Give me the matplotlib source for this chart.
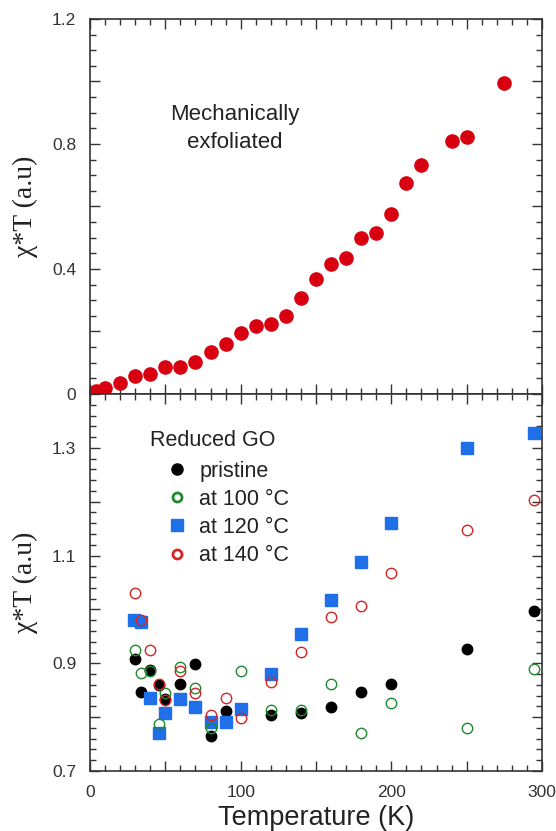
import matplotlib
matplotlib.use("Agg")
import matplotlib.pyplot as plt
from matplotlib.lines import Line2D
from matplotlib.ticker import MultipleLocator, FuncFormatter

# top panel: mechanically exfoliated
mech_T = [4, 10, 20, 30, 40, 50, 60, 70, 80, 90, 100, 110, 120, 130, 140,
          150, 160, 170, 180, 190, 200, 210, 220, 240, 250, 275]
mech_chiT = [0.008, 0.02, 0.034, 0.056, 0.063, 0.086, 0.086, 0.102, 0.135,
             0.159, 0.195, 0.216, 0.224, 0.248, 0.308, 0.369, 0.415, 0.436,
             0.499, 0.515, 0.576, 0.676, 0.733, 0.811, 0.821, 0.995]

# bottom panel: reduced GO
pristine_T = [30, 34, 40, 46, 50, 60, 70, 80, 90, 120, 140, 160, 180, 200,
              250, 295]
pristine_chiT = [0.908, 0.847, 0.887, 0.859, 0.833, 0.861, 0.898, 0.765,
                 0.812, 0.804, 0.807, 0.818, 0.846, 0.861, 0.927, 0.997]

t100_T = [30, 34, 40, 46, 50, 60, 70, 80, 100, 120, 140, 160, 180, 200,
          250, 295]
t100_chiT = [0.925, 0.882, 0.886, 0.788, 0.845, 0.893, 0.854, 0.78, 0.886,
             0.814, 0.814, 0.861, 0.771, 0.826, 0.779, 0.889]

t120_T = [29, 34, 40, 46, 50, 60, 70, 80, 90, 100, 120, 140, 160, 180, 200,
          250, 295]
t120_chiT = [0.98, 0.976, 0.835, 0.77, 0.808, 0.833, 0.819, 0.791, 0.791,
             0.816, 0.881, 0.955, 1.018, 1.088, 1.16, 1.299, 1.327]

t140_T = [30, 34, 40, 46, 50, 60, 70, 80, 90, 100, 120, 140, 160, 180, 200,
          250, 295]
t140_chiT = [1.03, 0.981, 0.925, 0.862, 0.831, 0.886, 0.845, 0.804, 0.836,
             0.799, 0.865, 0.921, 0.986, 1.007, 1.067, 1.148, 1.204]

legend_labels = ["pristine", "at 100 \u00b0C", "at 120 \u00b0C", "at 140 \u00b0C"]

sans = "Liberation Sans"
serif = "Liberation Serif"
red = "#d80010"
green = "#1e8a2e"
blue = "#1f6fe8"
red_open = "#d42424"


def style_axis(ax, y_major, y_minor, y_labels, show_x):
    ax.set_xlim(0, 300)
    ax.xaxis.set_major_locator(MultipleLocator(50))
    ax.xaxis.set_minor_locator(MultipleLocator(10))
    ax.yaxis.set_major_locator(MultipleLocator(y_major))
    ax.yaxis.set_minor_locator(MultipleLocator(y_minor))
    ax.tick_params(which="both", direction="in", top=True, right=True,
                   color="#333333", width=1.0)
    ax.tick_params(which="major", length=7, labelsize=12.5,
                   labelcolor="#333333", pad=10)
    ax.tick_params(which="minor", length=4)
    for s in ax.spines.values():
        s.set_linewidth(1.2)
        s.set_color("#333333")

    def yfmt(v, pos):
        for lab in y_labels:
            if abs(v - lab) < 1e-6:
                return "0" if abs(v) < 1e-9 else "%.1f" % v
        return ""
    ax.yaxis.set_major_formatter(FuncFormatter(yfmt))

    def xfmt(v, pos):
        return "%d" % v if show_x and int(round(v)) % 100 == 0 else ""
    ax.xaxis.set_major_formatter(FuncFormatter(xfmt))
    for lab in ax.get_xticklabels() + ax.get_yticklabels():
        lab.set_family(sans)

    ax.set_ylabel("\u03c7*T (a.u)", family=serif, fontsize=20, color="#222222")
    ax.yaxis.set_label_coords(-0.115, 0.5)


fig = plt.figure(figsize=(5.56, 8.31), dpi=100)
ax_top = fig.add_axes([0.1619, 0.5259, 0.8129, 0.4513])
ax_bot = fig.add_axes([0.1619, 0.0722, 0.8129, 0.4537])

# top panel
ax_top.plot(mech_T, mech_chiT, "o", color=red, ms=9.5, mec=red, clip_on=False)
ax_top.set_ylim(0, 1.2)
style_axis(ax_top, 0.2, 0.05, [0, 0.4, 0.8, 1.2], False)
ax_top.text(96, 0.85, "Mechanically\nexfoliated", ha="center", va="center",
            fontsize=16, family=sans, color="#222222", linespacing=1.4)

# bottom panel
ax_bot.plot(pristine_T, pristine_chiT, "o", color="black", ms=7.5,
            clip_on=False, zorder=3)
ax_bot.plot(t100_T, t100_chiT, "o", mfc="none", mec=green, ms=7.5, mew=1.0,
            clip_on=False, zorder=4)
ax_bot.plot(t120_T, t120_chiT, "s", color=blue, ms=8.5, clip_on=False,
            zorder=3)
ax_bot.plot(t140_T, t140_chiT, "o", mfc="none", mec=red_open, ms=7.5, mew=1.0,
            clip_on=False, zorder=4)
ax_bot.set_ylim(0.7, 1.4)
style_axis(ax_bot, 0.1, 0.02, [0.7, 0.9, 1.1, 1.3], True)
ax_bot.set_xlabel("Temperature (K)", family=sans, fontsize=19.5,
                  color="#222222", labelpad=4)

ax_bot.text(40, 1.313, "Reduced GO", ha="left", va="center", fontsize=15.5,
            family=sans, color="#222222")
handles = [
    Line2D([], [], ls="none", marker="o", color="black", ms=8),
    Line2D([], [], ls="none", marker="o", mfc="none", mec=green, ms=6.5, mew=2),
    Line2D([], [], ls="none", marker="s", color=blue, ms=8),
    Line2D([], [], ls="none", marker="o", mfc="none", mec=red_open, ms=6.5, mew=2),
]
leg = ax_bot.legend(handles, legend_labels, loc="upper left",
                    bbox_to_anchor=(50.5, 1.276), bbox_transform=ax_bot.transData,
                    frameon=False, borderpad=0, borderaxespad=0,
                    handlelength=1.0, handletextpad=0.55, labelspacing=0.33,
                    prop={"family": sans, "size": 15.5})
for t in leg.get_texts():
    t.set_color("#222222")

fig.savefig("out.png", dpi=100)
